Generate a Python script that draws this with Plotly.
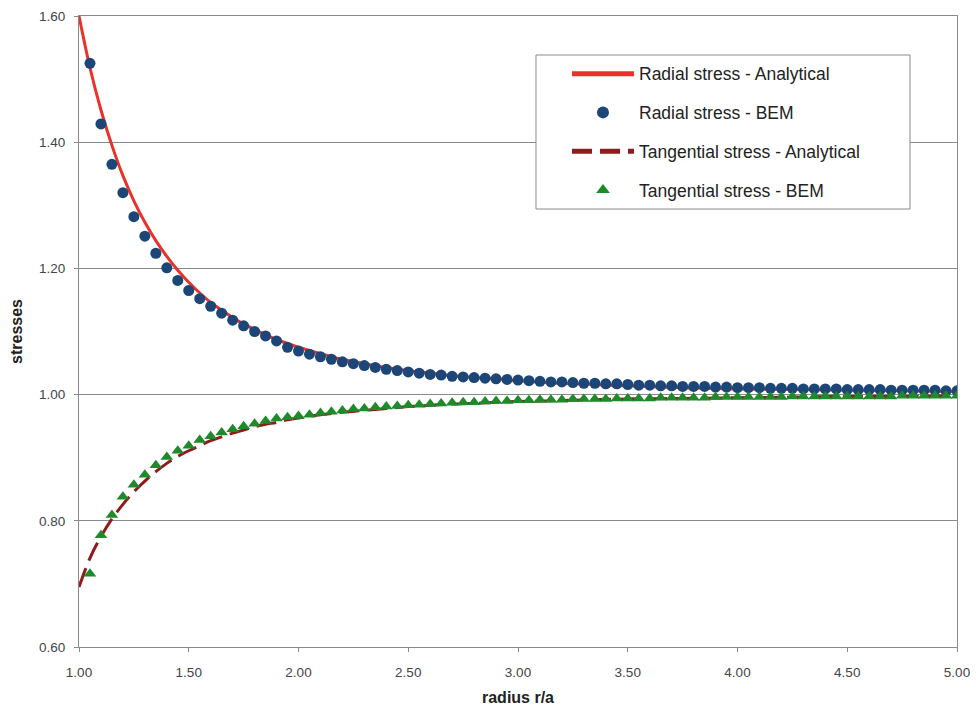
import plotly.graph_objects as go

# ---------------- data ----------------
r_line = [1.00, 1.05, 1.10, 1.15, 1.20, 1.25, 1.30, 1.35, 1.40, 1.45, 1.50, 1.55, 1.60, 1.65,
          1.70, 1.75, 1.80, 1.85, 1.90, 1.95, 2.00, 2.10, 2.20, 2.30, 2.40, 2.50, 2.60, 2.70,
          2.80, 2.90, 3.00, 3.25, 3.50, 3.75, 4.00, 4.25, 4.50, 4.75, 5.00]
radial_analytical = [1.600, 1.518, 1.451, 1.395, 1.347, 1.307, 1.273, 1.244, 1.219, 1.197, 1.178,
                     1.161, 1.146, 1.134, 1.122, 1.112, 1.103, 1.095, 1.087, 1.081, 1.075, 1.065,
                     1.056, 1.049, 1.043, 1.038, 1.034, 1.030, 1.027, 1.025, 1.022, 1.017, 1.014,
                     1.011, 1.009, 1.008, 1.007, 1.006, 1.005]
tangential_analytical = [0.695, 0.741, 0.775, 0.803, 0.826, 0.846, 0.863, 0.878, 0.891, 0.902, 0.911,
                         0.919, 0.927, 0.933, 0.939, 0.944, 0.949, 0.953, 0.956, 0.960, 0.963, 0.968,
                         0.972, 0.975, 0.978, 0.981, 0.983, 0.985, 0.986, 0.988, 0.989, 0.991, 0.993,
                         0.994, 0.995, 0.996, 0.997, 0.997, 0.998]

r_bem = [1.05, 1.10, 1.15, 1.20, 1.25, 1.30, 1.35, 1.40, 1.45, 1.50,
         1.55, 1.60, 1.65, 1.70, 1.75, 1.80, 1.85, 1.90, 1.95, 2.00,
         2.05, 2.10, 2.15, 2.20, 2.25, 2.30, 2.35, 2.40, 2.45, 2.50,
         2.55, 2.60, 2.65, 2.70, 2.75, 2.80, 2.85, 2.90, 2.95, 3.00,
         3.05, 3.10, 3.15, 3.20, 3.25, 3.30, 3.35, 3.40, 3.45, 3.50,
         3.55, 3.60, 3.65, 3.70, 3.75, 3.80, 3.85, 3.90, 3.95, 4.00,
         4.05, 4.10, 4.15, 4.20, 4.25, 4.30, 4.35, 4.40, 4.45, 4.50,
         4.55, 4.60, 4.65, 4.70, 4.75, 4.80, 4.85, 4.90, 4.95, 5.00]
radial_bem = [1.525, 1.429, 1.365, 1.320, 1.282, 1.251, 1.224, 1.201, 1.181, 1.165,
              1.152, 1.140, 1.129, 1.118, 1.109, 1.100, 1.093, 1.085, 1.075, 1.069,
              1.064, 1.060, 1.056, 1.052, 1.049, 1.046, 1.043, 1.040, 1.038, 1.036,
              1.034, 1.032, 1.031, 1.029, 1.028, 1.027, 1.026, 1.025, 1.024, 1.023,
              1.022, 1.021, 1.020, 1.020, 1.019, 1.018, 1.018, 1.017, 1.017, 1.016,
              1.015, 1.015, 1.014, 1.014, 1.013, 1.013, 1.013, 1.012, 1.012, 1.011,
              1.011, 1.011, 1.010, 1.010, 1.010, 1.009, 1.009, 1.009, 1.009, 1.008,
              1.008, 1.008, 1.008, 1.007, 1.007, 1.007, 1.007, 1.007, 1.006, 1.006]
tangential_bem = [0.716, 0.777, 0.809, 0.838, 0.857, 0.873, 0.888, 0.901, 0.911, 0.919,
                  0.928, 0.934, 0.940, 0.945, 0.950, 0.954, 0.958, 0.962, 0.964, 0.966,
                  0.968, 0.971, 0.973, 0.975, 0.977, 0.978, 0.980, 0.981, 0.982, 0.983,
                  0.984, 0.985, 0.986, 0.987, 0.988, 0.988, 0.989, 0.990, 0.990, 0.991,
                  0.991, 0.992, 0.992, 0.992, 0.993, 0.993, 0.993, 0.993, 0.994, 0.994,
                  0.994, 0.994, 0.995, 0.995, 0.995, 0.995, 0.995, 0.996, 0.996, 0.996,
                  0.996, 0.996, 0.996, 0.996, 0.997, 0.997, 0.997, 0.997, 0.997, 0.997,
                  0.997, 0.997, 0.997, 0.997, 0.998, 0.998, 0.998, 0.998, 0.998, 0.998]

x_ticks = [1.0, 1.5, 2.0, 2.5, 3.0, 3.5, 4.0, 4.5, 5.0]
y_ticks = [0.6, 0.8, 1.0, 1.2, 1.4, 1.6]

FONT = "Liberation Sans, Arial, sans-serif"
GRID = "#8a8a8a"

fig = go.Figure()
fig.add_trace(go.Scatter(x=r_line, y=radial_analytical, mode="lines", line_shape="spline",
                         name="Radial stress - Analytical", legendgroup="a",
                         line=dict(color="#e8322a", width=3)))
fig.add_trace(go.Scatter(x=r_bem, y=radial_bem, mode="markers",
                         name="Radial stress - BEM", legendgroup="b",
                         marker=dict(symbol="circle", size=11, color="#1b4677")))
fig.add_trace(go.Scatter(x=r_line, y=tangential_analytical, mode="lines", line_shape="spline",
                         name="Tangential stress - Analytical", legendgroup="c",
                         line=dict(color="#8e1c1c", width=3, dash="20px,8px")))
fig.add_trace(go.Scatter(x=r_bem, y=tangential_bem, mode="markers",
                         name="Tangential stress - BEM", legendgroup="d",
                         marker=dict(symbol="triangle-up", size=11, color="#1e8a2a")))

axis_common = dict(showline=True, linecolor=GRID, linewidth=1, mirror=True,
                   ticks="outside", ticklen=4, tickcolor=GRID, zeroline=False,
                   automargin=False,
                   tickfont=dict(family=FONT, size=13.5, color="#444444"))

fig.update_xaxes(range=[1.0, 5.0], tickvals=x_ticks, tickformat=".2f", showgrid=False,
                 ticklabelstandoff=9,
                 title=dict(text="<b>radius r/a</b>", font=dict(family=FONT, size=16, color="#222222"),
                            standoff=12),
                 **axis_common)
fig.update_yaxes(range=[0.6, 1.6], tickvals=y_ticks, tickformat=".2f", showgrid=True,
                 gridcolor=GRID, gridwidth=1, ticklabelstandoff=6,
                 title=dict(text="<b>stresses</b>", font=dict(family=FONT, size=16, color="#222222"),
                            standoff=12),
                 **axis_common)

# legend frame (white box covering the gridlines)
fig.add_shape(type="rect", xref="paper", yref="paper",
              x0=0.5205, x1=0.9465, y0=0.6941, y1=0.9382,
              fillcolor="white", line=dict(color=GRID, width=1), layer="above")

fig.update_layout(
    width=976, height=712,
    margin=dict(l=79, r=19, t=16, b=65),
    paper_bgcolor="white", plot_bgcolor="white",
    font=dict(family=FONT, size=13, color="#222222"),
    legend=dict(x=0.5558, y=0.937, xanchor="left", yanchor="top",
                bgcolor="rgba(0,0,0,0)", borderwidth=0,
                font=dict(family=FONT, size=17.5, color="#222222"),
                itemwidth=62, tracegroupgap=13, traceorder="grouped",
                itemsizing="constant"),
    showlegend=True,
)

fig.write_html("out.html")
